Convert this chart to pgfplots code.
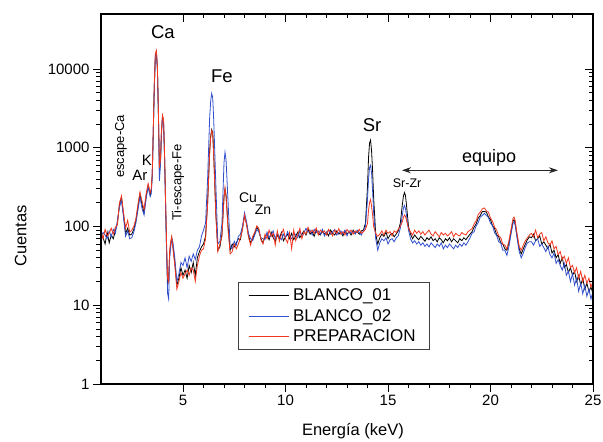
\documentclass[border=0pt]{standalone}
\usepackage{fontspec}
\setmainfont{Liberation Sans}
\usepackage{pgfplots}
\usepackage{pgfplotstable}
\pgfplotsset{compat=1.18}
\usetikzlibrary{arrows.meta}

\definecolor{cblue}{RGB}{50,80,205}
\definecolor{cred}{RGB}{242,55,30}

% energy (keV), BLANCO_01, BLANCO_02, PREPARACION (cuentas)
\pgfplotstableread{
x b1 b2 pr
1.0 80 75 88
1.1 72 84 70
1.2 60 78 92
1.3 85 70 76
1.4 62 88 82
1.5 78 74 95
1.6 70 92 80
1.7 88 82 98
1.8 110 120 105
1.9 190 175 200
2.0 235 215 245
2.1 140 130 150
2.2 82 75 95
2.3 95 88 120
2.4 78 70 85
2.5 80 72 90
2.6 92 85 100
2.7 118 110 125
2.8 175 160 190
2.9 255 240 275
3.0 190 170 210
3.1 150 140 165
3.2 240 225 260
3.3 335 320 350
3.4 250 240 270
3.45 280 260 300
3.5 450 430 480
3.55 1600 1550 1700
3.6 6000 5800 6500
3.65 14500 14000 15500
3.7 16500 16000 17200
3.75 10500 10000 11000
3.8 2800 2600 3000
3.85 500 380 560
3.9 650 600 700
3.95 1600 1500 1700
4.0 2500 2400 2600
4.05 2200 2100 2300
4.1 800 750 850
4.15 200 190 220
4.2 50 45 60
4.25 18 14 22
4.3 22 12 20
4.35 45 40 50
4.4 60 55 65
4.45 72 70 75
4.5 60 65 55
4.6 35 40 32
4.7 18 20 16
4.8 22 25 20
4.9 30 35 26
5.0 24 32 22
5.1 28 40 25
5.2 22 30 28
5.3 32 42 24
5.4 26 36 30
5.5 35 45 28
5.6 24 38 20
5.7 40 50 32
5.8 48 55 42
5.9 55 75 50
6.0 60 90 52
6.1 75 110 70
6.2 200 400 190
6.3 900 2400 850
6.35 1400 3900 1350
6.4 1700 4900 1650
6.45 1550 4300 1500
6.5 800 2200 780
6.6 150 350 140
6.7 50 60 48
6.8 55 65 60
6.9 80 110 75
7.0 240 650 230
7.05 300 880 310
7.1 250 700 240
7.2 100 200 90
7.3 50 55 45
7.4 60 52 48
7.5 55 65 60
7.6 62 58 52
7.7 70 75 60
7.8 68 80 72
7.9 95 100 90
8.0 135 150 140
8.1 110 115 105
8.2 75 80 72
8.3 62 70 58
8.4 70 66 75
8.5 82 78 85
8.6 98 92 102
8.7 90 85 95
8.8 70 72 68
8.9 62 70 60
9.0 75 68 80
9.1 80 85 70
9.2 68 72 90
9.3 85 78 75
9.4 72 88 82
9.5 65 70 58
9.6 78 82 88
9.7 70 75 65
9.8 84 68 80
9.9 66 80 92
10.0 74 72 70
10.1 80 86 62
10.2 70 74 84
10.3 82 70 52
10.4 68 84 90
10.5 76 78 66
10.6 85 72 80
10.7 72 88 95
10.8 80 76 70
10.9 88 82 86
11.0 78 95 80
11.1 92 85 98
11.2 80 90 84
11.3 86 78 90
11.4 75 92 82
11.5 90 84 96
11.6 82 88 78
11.7 78 80 90
11.8 88 92 84
11.9 80 76 88
12.0 85 84 78
12.1 76 90 92
12.2 90 80 84
12.3 82 86 76
12.4 78 92 90
12.5 88 78 82
12.6 80 84 94
12.7 84 88 80
12.8 76 80 86
12.9 88 90 78
13.0 80 76 92
13.1 86 88 84
13.2 78 82 90
13.3 90 86 80
13.4 82 80 88
13.5 86 90 84
13.6 80 84 92
13.7 88 78 82
13.8 90 88 86
13.9 110 100 92
14.0 320 220 110
14.05 750 400 160
14.1 1150 560 200
14.15 1250 600 220
14.2 900 470 180
14.25 500 280 140
14.3 230 150 100
14.4 80 70 82
14.5 60 50 75
14.6 72 62 80
14.7 80 70 88
14.8 75 66 78
14.9 85 72 90
15.0 70 60 82
15.1 78 68 86
15.2 82 70 76
15.3 74 64 88
15.4 80 72 84
15.5 88 76 92
15.6 110 95 100
15.7 190 140 115
15.75 240 170 130
15.8 270 185 140
15.85 250 170 135
15.9 190 140 120
16.0 100 90 95
16.1 80 70 85
16.2 70 62 78
16.3 78 66 90
16.4 72 60 82
16.5 68 64 88
16.6 75 58 80
16.7 70 62 86
16.8 65 56 78
16.9 72 60 84
17.0 68 55 90
17.1 74 62 80
17.2 66 58 76
17.3 70 54 86
17.4 64 60 80
17.5 72 56 74
17.6 68 62 84
17.7 62 52 78
17.8 70 58 82
17.9 66 54 76
18.0 72 60 80
18.1 64 56 86
18.2 70 52 74
18.3 66 58 82
18.4 62 54 78
18.5 70 60 76
18.6 66 56 84
18.7 72 62 80
18.8 68 58 78
18.9 74 64 86
19.0 80 72 90
19.1 86 82 94
19.2 98 86 108
19.3 108 102 118
19.4 128 112 142
19.5 138 132 152
19.6 155 138 168
19.7 156 147 172
19.8 152 138 158
19.9 132 130 152
20.0 122 110 128
20.1 102 102 116
20.2 94 83 98
20.3 78 77 90
20.4 74 64 76
20.5 62 62 72
20.6 60 50 60
20.7 52 50 58
20.8 50 43 52
20.9 62 56 66
21.0 85 80 92
21.1 118 110 128
21.15 122 115 132
21.2 110 105 120
21.3 75 70 80
21.4 52 48 56
21.5 45 40 50
21.6 52 46 58
21.7 60 55 66
21.8 68 62 72
21.9 74 64 78
22.0 72 64 82
22.1 80 58 74
22.2 66 66 90
22.3 70 70 72
22.4 76 56 80
22.5 60 60 84
22.6 64 54 66
22.7 58 48 74
22.8 52 56 62
22.9 60 44 58
23.0 46 40 66
23.1 50 46 52
23.2 40 34 56
23.3 44 38 44
23.4 34 32 48
23.5 40 28 38
23.6 30 34 42
23.7 33 24 34
23.8 26 27 40
23.9 30 20 30
24.0 24 25 32
24.1 27 18 26
24.2 20 22 30
24.3 24 15 22
24.4 18 19 27
24.5 22 14 20
24.6 16 18 24
24.7 19 13 19
24.8 15 16 22
24.9 17 12 17
25.0 14 15 20
}\spectra

\pgfplotsset{
  specframe/.style={
    scale only axis, width=492pt, height=370pt,
    xmin=1, xmax=25, ymin=1, ymax=50000,
    xtick={5,10,15,20,25}, minor x tick num=4,
    ytick={1,10,100,1000,10000},
    major tick length=8pt, minor tick length=4.5pt,
    every tick/.style={black, line width=0.9pt},
    axis line style={line width=1.1pt},
  },
}

\begin{document}
\begin{tikzpicture}
\begin{axis}[
    ymode=log, specframe, name=ax,
    xtick pos=bottom, ytick pos=left, tick align=outside,
    log ticks with fixed point,
    /pgf/number format/1000 sep={},
    /pgf/number format/assume math mode=true,
    ticklabel style={font=\fontsize{15}{17}\selectfont},
    xlabel={Energía (keV)}, ylabel={Cuentas},
    label style={font=\fontsize{16.5}{19}\selectfont},
    xlabel style={at={(axis description cs:0.512,-0.127)}, anchor=center},
    ylabel style={at={(axis description cs:-0.163,0.40)}, anchor=center},
    legend cell align=left,
    legend style={at={(axis description cs:0.278,0.092)}, anchor=south west,
        draw=black!75, line width=0.7pt, font=\fontsize{17}{19}\selectfont,
        inner xsep=10pt, inner ysep=3pt,
        nodes={inner xsep=4pt, inner ysep=3.5pt}},
    legend image code/.code={\draw[#1, line width=1pt] (0pt,0pt) -- (40pt,0pt);},
]
\addplot[black, line width=0.8pt] table[x=x, y=b1] {\spectra};
\addplot[cblue, line width=0.8pt] table[x=x, y=b2] {\spectra};
\addplot[cred, line width=0.8pt] table[x=x, y=pr] {\spectra};
\legend{BLANCO\_01, BLANCO\_02, PREPARACION}

\node[font=\fontsize{18.5}{21}\selectfont] at (axis cs:4.02,29600) {Ca};
\node[font=\fontsize{18.5}{21}\selectfont] at (axis cs:6.9,8150) {Fe};
\node[font=\fontsize{18.5}{21}\selectfont] at (axis cs:14.22,1940) {Sr};
\node[font=\fontsize{13}{15}\selectfont, rotate=90] at (axis cs:1.97,1040) {escape-Ca};
\node[font=\fontsize{13}{15}\selectfont, rotate=90] at (axis cs:4.76,363) {Ti-escape-Fe};
\node[font=\fontsize{15}{17}\selectfont] at (axis cs:3.24,690) {K};
\node[font=\fontsize{15}{17}\selectfont] at (axis cs:2.9,445) {Ar};
\node[font=\fontsize{14}{16}\selectfont] at (axis cs:8.17,234) {Cu};
\node[font=\fontsize{14}{16}\selectfont] at (axis cs:8.9,165) {Zn};
\node[font=\fontsize{12.5}{15}\selectfont] at (axis cs:15.93,354) {Sr-Zr};
\node[font=\fontsize{18}{20}\selectfont] at (axis cs:19.93,735) {equipo};
\draw[line width=1.1pt, black!85, {Stealth[length=9pt,width=6pt]}-{Stealth[length=9pt,width=6pt]}]
    (axis cs:15.68,518) -- (axis cs:23.29,518);
\end{axis}
\begin{axis}[
    ymode=log, specframe,
    xtick pos=top, ytick pos=right, tick align=inside,
    xticklabels={}, yticklabels={},
]
\end{axis}
\pgfresetboundingbox
\path ([shift={(-101pt,-57pt)}]ax.south west) rectangle ([shift={(10pt,14pt)}]ax.north east);
\end{tikzpicture}
\end{document}
